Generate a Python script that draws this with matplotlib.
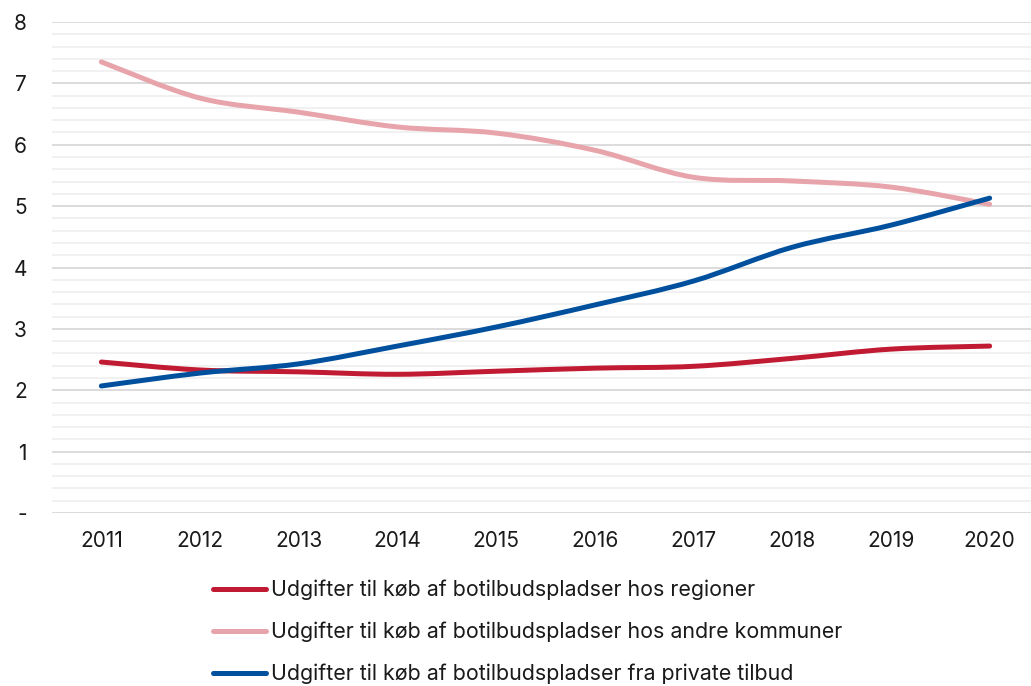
import numpy as np
import matplotlib.pyplot as plt
from matplotlib.path import Path
from matplotlib.patches import PathPatch
from matplotlib.lines import Line2D
from matplotlib.ticker import MultipleLocator

plt.rcParams['font.family'] = ['Inter', 'DejaVu Sans']

# -------- DATA --------
years = [2011, 2012, 2013, 2014, 2015, 2016, 2017, 2018, 2019, 2020]
regioner = [2.46, 2.33, 2.30, 2.26, 2.31, 2.36, 2.39, 2.52, 2.67, 2.72]
andre_kommuner = [7.35, 6.76, 6.53, 6.29, 6.19, 5.91, 5.47, 5.41, 5.31, 5.03]
private_tilbud = [2.07, 2.28, 2.43, 2.72, 3.03, 3.39, 3.78, 4.33, 4.69, 5.13]

labels = [
    "Udgifter til køb af botilbudspladser hos regioner",
    "Udgifter til køb af botilbudspladser hos andre kommuner",
    "Udgifter til køb af botilbudspladser fra private tilbud",
]
colors = ["#C01B32", "#E8A4AB", "#00509E"]
y_ticks = [0, 1, 2, 3, 4, 5, 6, 7, 8]
y_ticklabels = ["-", "1", "2", "3", "4", "5", "6", "7", "8"]


# -------- SMOOTH LINE (Bezier through the data points) --------
def smooth_path(x, y):
    pts = np.column_stack([x, y]).astype(float)
    n = len(pts)
    verts = [pts[0]]
    codes = [Path.MOVETO]
    for i in range(n - 1):
        p0 = pts[max(i - 1, 0)]
        p1 = pts[i]
        p2 = pts[i + 1]
        p3 = pts[min(i + 2, n - 1)]
        c1 = p1 + (p2 - p0) / 6.0
        c2 = p2 - (p3 - p1) / 6.0
        verts += [c1, c2, p2]
        codes += [Path.CURVE4] * 3
    return Path(verts, codes)


# -------- PLOT --------
fig = plt.figure(figsize=(10.31, 6.86), dpi=100)
ax = fig.add_axes([52 / 1031, 1 - 513 / 686, 987 / 1031, 491 / 686])

for series, c in zip([regioner, andre_kommuner, private_tilbud], colors):
    patch = PathPatch(smooth_path(years, series), facecolor="none",
                      edgecolor=c, lw=3.6, capstyle="round", zorder=3)
    ax.add_patch(patch)

ax.set_xlim(2010.5, 2020.5)
ax.set_ylim(0, 8)
ax.set_xticks(years)
ax.set_xticklabels([str(y) for y in years])
ax.set_yticks(y_ticks)
ax.set_yticklabels(y_ticklabels)
ax.yaxis.set_minor_locator(MultipleLocator(0.2))

ax.grid(axis="y", which="major", color="#d9d9d9", lw=1.3)
ax.grid(axis="y", which="minor", color="#f0f0f0", lw=1.3)
ax.set_axisbelow(True)
for s in ax.spines.values():
    s.set_visible(False)
ax.tick_params(axis="both", which="both", length=0, labelsize=15,
               labelcolor="#1a1a1a")
ax.tick_params(axis="y", pad=18)
ax.tick_params(axis="x", pad=13)

handles = [Line2D([], [], color=c, lw=3.6, solid_capstyle="round") for c in colors]
fig.legend(handles, labels, loc="upper left",
           bbox_to_anchor=(213 / 1031, 1 - 580 / 686),
           frameon=False, fontsize=15.4, handlelength=2.5,
           handletextpad=0.2, labelspacing=1.0, borderpad=0,
           borderaxespad=0, labelcolor="#1a1a1a")

fig.savefig("out.png", dpi=100)
